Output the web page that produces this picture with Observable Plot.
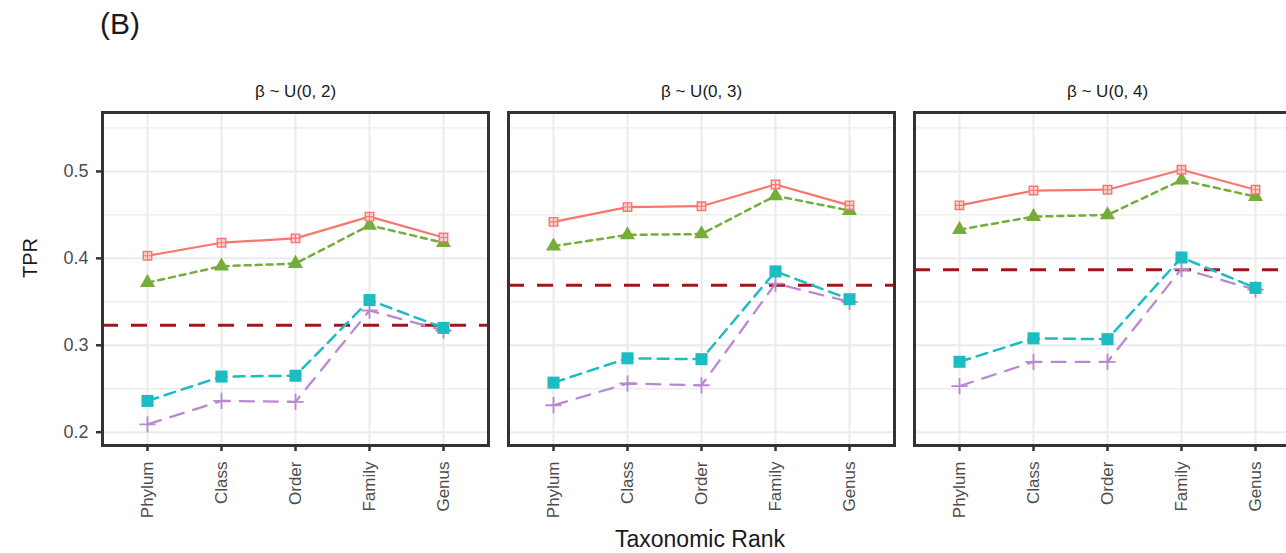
<!DOCTYPE html>
<html><head><meta charset="utf-8">
<script src="https://cdn.jsdelivr.net/npm/d3@7"></script>
<script src="https://cdn.jsdelivr.net/npm/@observablehq/plot@0.6"></script>
<style>
html,body{margin:0;padding:0;overflow:hidden;background:#fff;}
#wrap{position:relative;width:1286px;height:553px;overflow:hidden;font-family:"Liberation Sans",Arial,Helvetica,sans-serif;}
#wrap svg{position:absolute;left:0;top:0;max-width:none !important;width:1302px !important;height:553px !important;}
.lab{position:absolute;color:#1a1a1a;white-space:nowrap;line-height:1;}
</style></head><body><div id="wrap"></div>
<script>
// ---- data ----
const panels = ["β ~ U(0, 2)", "β ~ U(0, 3)", "β ~ U(0, 4)"];
const ranks = ["Phylum", "Class", "Order", "Family", "Genus"];
const yTicks = [0.2, 0.3, 0.4, 0.5];
const yMinor = [0.25, 0.35, 0.45, 0.55];
const seriesRed    = [[0.403,0.418,0.423,0.448,0.424],[0.442,0.459,0.460,0.485,0.461],[0.461,0.478,0.479,0.502,0.479]];
const seriesGreen  = [[0.372,0.391,0.394,0.438,0.418],[0.414,0.427,0.428,0.472,0.455],[0.433,0.448,0.450,0.490,0.471]];
const seriesCyan   = [[0.236,0.264,0.265,0.352,0.320],[0.257,0.285,0.284,0.385,0.353],[0.281,0.308,0.307,0.401,0.366]];
const seriesPurple = [[0.209,0.236,0.235,0.340,0.317],[0.231,0.256,0.254,0.371,0.350],[0.253,0.281,0.281,0.388,0.364]];
const thresholds = [0.323, 0.369, 0.387];

function rows(values) {
  const out = [];
  values.forEach((arr, p) => arr.forEach((v, i) => out.push({panel: panels[p], rank: ranks[i], value: v})));
  return out;
}
const red = rows(seriesRed), green = rows(seriesGreen), cyan = rows(seriesCyan), purple = rows(seriesPurple);
const thr = thresholds.map((v, p) => ({panel: panels[p], value: v}));

const C = {red: "#F8766D", green: "#76AD3A", cyan: "#1CBDC2", purple: "#B988D0", dark: "#A3151B"};
const font = '"Liberation Sans", Arial, Helvetica, sans-serif';

const chart = Plot.plot({
  width: 1302, height: 553,
  marginLeft: 101, marginRight: 0, marginTop: 112, marginBottom: 108,
  style: {fontFamily: font, background: "transparent", overflow: "visible", maxWidth: "none"},
  fx: {domain: panels, paddingInner: 0.049, paddingOuter: 0, label: null, axis: null},
  x: {type: "point", domain: ranks, padding: 0.6, axis: null},
  y: {domain: [0.1847, 0.5678], axis: null},
  marks: [
    Plot.ruleY(yMinor, {stroke: "#EBEBEB", strokeWidth: 1.3}),
    Plot.ruleY(yTicks, {stroke: "#EBEBEB", strokeWidth: 2}),
    Plot.ruleX(ranks, {x: d => d, stroke: "#EBEBEB", strokeWidth: 2}),
    Plot.axisFx({anchor: "top", tickSize: 0, tickPadding: 16, label: null, fontSize: 17, fill: "#1a1a1a"}),
    Plot.axisY({anchor: "left", ticks: yTicks, tickFormat: d3.format(".1f"), tickSize: 6, tickPadding: 8, fontSize: 18, label: null, stroke: "#333", strokeWidth: 2.5, fill: "#4d4d4d"}),
    Plot.axisX({anchor: "bottom", tickSize: 6, tickPadding: 10, tickRotate: -90, fontSize: 17, label: null, stroke: "#333", strokeWidth: 2.5, fill: "#4d4d4d"}),
    Plot.ruleY(thr, {fx: "panel", y: "value", stroke: C.dark, strokeWidth: 3, strokeDasharray: "16 13"}),
    Plot.line(purple, {fx: "panel", x: "rank", y: "value", stroke: C.purple, strokeWidth: 2.3, strokeDasharray: "14 10"}),
    Plot.dot(purple, {fx: "panel", x: "rank", y: "value", symbol: "plus", r: 5.3, stroke: C.purple, strokeWidth: 1.8}),
    Plot.line(cyan, {fx: "panel", x: "rank", y: "value", stroke: C.cyan, strokeWidth: 2.5, strokeDasharray: "11 7"}),
    Plot.dot(cyan, {fx: "panel", x: "rank", y: "value", symbol: "square", r: 6.8, fill: C.cyan}),
    Plot.line(green, {fx: "panel", x: "rank", y: "value", stroke: C.green, strokeWidth: 2.5, strokeDasharray: "6 5"}),
    Plot.dot(green, {fx: "panel", x: "rank", y: "value", symbol: "triangle", r: 5.6, fill: C.green}),
    Plot.line(red, {fx: "panel", x: "rank", y: "value", stroke: C.red, strokeWidth: 2.2}),
    Plot.dot(red, {fx: "panel", x: "rank", y: "value", symbol: "square2", r: 5.4, stroke: C.red, strokeWidth: 1.4, fill: "#FBD0CC"}),
    Plot.dot(red, {fx: "panel", x: "rank", y: "value", symbol: "plus", r: 2.9, stroke: C.red, strokeWidth: 1.1}),
    Plot.frame({stroke: "#333", strokeWidth: 3})
  ]
});

const wrap = document.getElementById("wrap");
wrap.appendChild(chart);

function addLabel(text, css) {
  const d = document.createElement("div");
  d.className = "lab";
  d.textContent = text;
  Object.assign(d.style, css);
  wrap.appendChild(d);
}
addLabel("(B)", {left: "100px", top: "9px", fontSize: "30px"});
addLabel("TPR", {left: "30px", top: "258px", fontSize: "20px", transform: "translate(-50%,-50%) rotate(-90deg)"});
addLabel("Taxonomic Rank", {left: "700px", top: "539px", fontSize: "23px", transform: "translate(-50%,-50%)"});
</script></body></html>
